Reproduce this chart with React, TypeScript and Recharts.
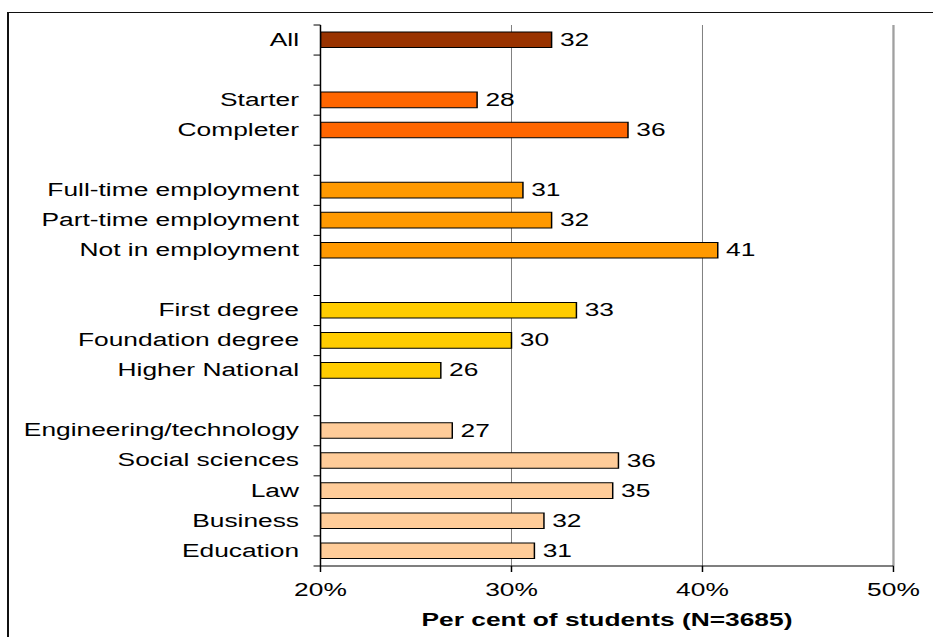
import React from "react";
import { BarChart, Bar, XAxis, YAxis, CartesianGrid, Cell, LabelList, ReferenceLine } from "recharts";

// Rows from top to bottom; blank rows separate the groups
const categories = [
  "All",
  "",
  "Starter",
  "Completer",
  "",
  "Full-time employment",
  "Part-time employment",
  "Not in employment",
  "",
  "First degree",
  "Foundation degree",
  "Higher National",
  "",
  "Engineering/technology",
  "Social sciences",
  "Law",
  "Business",
  "Education",
];
const values = [32.1, null, 28.2, 36.1, null, 30.6, 32.1, 40.8, null, 33.4, 30.0, 26.3, null, 26.9, 35.6, 35.3, 31.7, 31.2];
const groups = [0, -1, 1, 1, -1, 2, 2, 2, -1, 3, 3, 3, -1, 4, 4, 4, 4, 4];
const xTicks = [20, 30, 40, 50];
const axisTitle = "Per cent of students (N=3685)";

const GROUP_COLORS = ["#993300", "#FF6600", "#FF9900", "#FFCC00", "#FFCC99"];

const data = categories.map((name, i) => ({ key: `row${i}`, name, value: values[i], group: groups[i] }));

// the whole chart is drawn narrow and stretched sideways
const STRETCH = 1.48;
const W = 933;
const H = 637;
const CHART_W = W / STRETCH;
const PLOT_LEFT = 320.5 / STRETCH;
const RIGHT_M = (W - 893.5) / STRETCH;
const PLOT_TOP = 25;
const PLOT_BOTTOM = 566;
const BAND = (PLOT_BOTTOM - PLOT_TOP) / categories.length;
const FONT = "'Liberation Sans', Arial, sans-serif";
const FS = 17.8;
const TICK = 4.7;

const YTick = (props: any) => {
  const { y, payload } = props;
  const idx = data.findIndex((d) => d.key === payload.value);
  const row = data[idx];
  const top = y - BAND / 2;
  return (
    <g>
      <line x1={PLOT_LEFT - TICK} x2={PLOT_LEFT} y1={top} y2={top} stroke="#000" strokeWidth={1} />
      {idx === data.length - 1 && (
        <line x1={PLOT_LEFT - TICK} x2={PLOT_LEFT} y1={y + BAND / 2} y2={y + BAND / 2} stroke="#000" strokeWidth={1} />
      )}
      <text x={PLOT_LEFT - 14.5} y={y} dy="0.32em" textAnchor="end" fontSize={FS} fontFamily={FONT} fill="#000">
        {row ? row.name : ""}
      </text>
    </g>
  );
};

const ValueLabel = (props: any) => {
  const { x, y, width, height, value } = props;
  if (value == null) return null;
  return (
    <text x={Number(x) + Number(width) + 5.6} y={Number(y) + Number(height) / 2} dy="0.34em" fontSize={FS} fontFamily={FONT} fill="#000">
      {Math.round(Number(value))}
    </text>
  );
};

export default function App() {
  return (
    <div style={{ position: "absolute", left: 0, top: 0, width: W, height: H, overflow: "hidden", background: "#fff" }}>
      <div
        style={{
          position: "absolute",
          left: 7,
          top: 12,
          width: W,
          height: H,
          borderTop: "1.5px solid #111",
          borderLeft: "2px solid #111",
        }}
      />
      <div
        style={{
          position: "absolute",
          left: 0,
          top: 0,
          width: CHART_W,
          height: H,
          transform: `scaleX(${STRETCH})`,
          transformOrigin: "0 0",
        }}
      >
        <BarChart
          width={CHART_W}
          height={H}
          layout="vertical"
          data={data}
          margin={{ top: PLOT_TOP, right: RIGHT_M, bottom: 0, left: 0 }}
        >
          <CartesianGrid horizontal={false} stroke="#808080" strokeWidth={0.68} />
          <ReferenceLine x={50} stroke="#a0a0a0" strokeWidth={1.55} />
          <XAxis
            xAxisId="top"
            orientation="top"
            type="number"
            domain={[20, 50]}
            height={0}
            tick={false}
            tickLine={false}
            axisLine={{ stroke: "#a0a0a0", strokeWidth: 1.5 }}
          />
          <XAxis
            type="number"
            domain={[20, 50]}
            ticks={xTicks}
            allowDataOverflow
            tickFormatter={(v: number) => `${v}%`}
            height={H - PLOT_BOTTOM}
            tickSize={6}
            tickMargin={11}
            tick={{ fontSize: FS, fill: "#000", fontFamily: FONT }}
            axisLine={{ stroke: "#000", strokeWidth: 1 }}
            tickLine={{ stroke: "#000", strokeWidth: 1 }}
            label={{
              value: axisTitle,
              position: "insideBottom",
              offset: 11,
              fill: "#000",
              fontSize: FS,
              fontWeight: "bold",
              fontFamily: FONT,
            }}
          />
          <YAxis
            type="category"
            dataKey="key"
            width={PLOT_LEFT}
            interval={0}
            tick={(p: any) => <YTick {...p} />}
            tickLine={false}
            axisLine={{ stroke: "#000", strokeWidth: 1 }}
          />
          <Bar dataKey="value" barSize={15.6} stroke="#000" strokeWidth={1} isAnimationActive={false}>
            {data.map((d) => (
              <Cell key={d.key} fill={d.group >= 0 ? GROUP_COLORS[d.group] : "none"} />
            ))}
            <LabelList dataKey="value" content={(p: any) => <ValueLabel {...p} />} />
          </Bar>
        </BarChart>
      </div>
    </div>
  );
}
